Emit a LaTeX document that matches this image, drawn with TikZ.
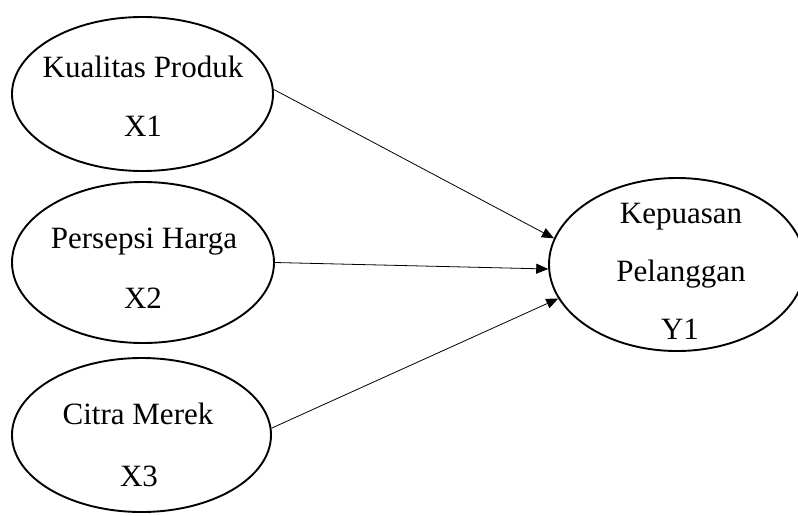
\documentclass[tikz,border=0pt]{standalone}
\usepackage{fontspec}
\setmainfont{Liberation Serif}
\usetikzlibrary{shapes.geometric,arrows.meta}
\begin{document}
\begin{tikzpicture}[x=1pt,y=-1pt,
  var/.style={ellipse,draw,line width=1.9pt,inner sep=0pt},
  lbl/.style={anchor=base,font=\fontsize{31}{36}\selectfont,inner sep=0pt},
  link/.style={line width=0.8pt,-{Triangle[length=12pt,width=10pt]}}]
\useasboundingbox (0,0) rectangle (798,515);
\node[var,minimum width=261pt,minimum height=154pt] (x1) at (142.5,94) {};
\node[var,minimum width=262pt,minimum height=161pt] (x2) at (143,262.5) {};
\node[var,minimum width=259pt,minimum height=154pt] (x3) at (141.5,435) {};
\node[var,minimum width=256pt,minimum height=173pt] (y1) at (677,264.5) {};
\node[lbl] (t1a) at (143,77) {Kualitas Produk};
\node[lbl] (t1b) at (143,136) {X1};
\node[lbl] (t2a) at (144,248) {Persepsi Harga};
\node[lbl] (t2b) at (143,308) {X2};
\node[lbl] (t3a) at (138,424) {Citra Merek};
\node[lbl] (t3b) at (139,486) {X3};
\node[lbl] (t4a) at (681,223) {Kepuasan};
\node[lbl] (t4b) at (681,281) {Pelanggan};
\node[lbl] (t4c) at (680,339) {Y1};
\draw[link] (x1.2) -- (y1.168);
\draw[link] (x2.0) -- (y1.182);
\draw[link] (x3.3) -- (y1.196);
\end{tikzpicture}
\end{document}
